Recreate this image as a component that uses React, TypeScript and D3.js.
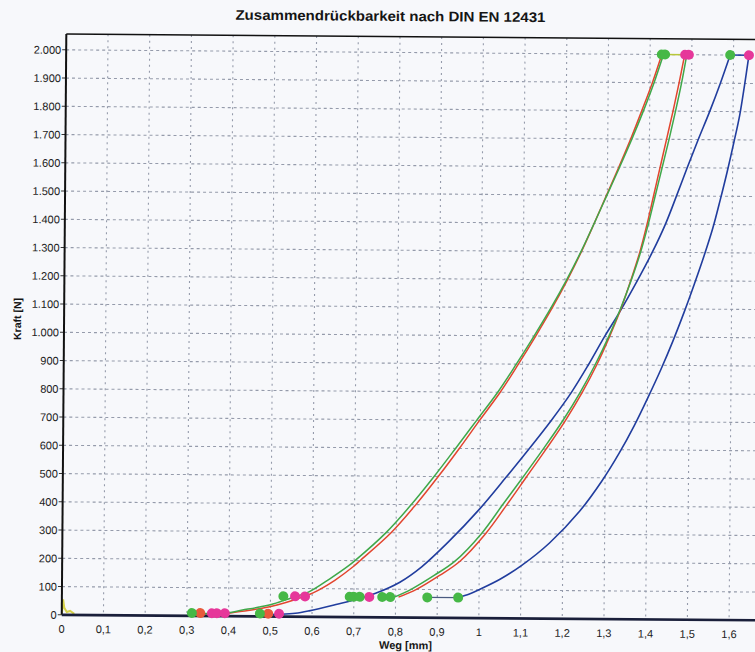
import React from "react";
import * as d3 from "d3";

// ---------- data (Weg [mm], Kraft [N]) ----------
const xTickValues = [0, 0.1, 0.2, 0.3, 0.4, 0.5, 0.6, 0.7, 0.8, 0.9, 1, 1.1, 1.2, 1.3, 1.4, 1.5, 1.6];
const yTickValues = [0, 100, 200, 300, 400, 500, 600, 700, 800, 900, 1000, 1100, 1200, 1300, 1400, 1500, 1600, 1700, 1800, 1900, 2000];

const curveAGreenWeg = [0.313, 0.353, 0.393, 0.433, 0.473, 0.508, 0.548, 0.592, 0.642, 0.687, 0.702, 0.776, 0.836, 0.89, 0.941, 0.991, 1.041, 1.085, 1.127, 1.167, 1.204, 1.238, 1.269, 1.299, 1.329, 1.358, 1.385, 1.41, 1.432];
const curveAGreenKraft = [8, 9, 11, 22, 33, 45, 65, 88, 135, 182, 200, 300, 400, 500, 600, 700, 800, 900, 1000, 1100, 1200, 1300, 1400, 1500, 1600, 1700, 1800, 1900, 2000];

const curveARedWeg = [0.333, 0.373, 0.403, 0.443, 0.483, 0.518, 0.558, 0.602, 0.654, 0.699, 0.714, 0.788, 0.847, 0.9, 0.95, 0.998, 1.047, 1.09, 1.131, 1.17, 1.206, 1.239, 1.269, 1.298, 1.327, 1.355, 1.381, 1.406, 1.428];
const curveARedKraft = [8, 9, 11, 20, 30, 42, 60, 85, 130, 180, 200, 300, 400, 500, 600, 700, 800, 900, 1000, 1100, 1200, 1300, 1400, 1500, 1600, 1700, 1800, 1900, 2000];

const curveBBlueWeg = [0.47, 0.52, 0.56, 0.593, 0.66, 0.712, 0.752, 0.81, 0.862, 0.925, 0.999, 1.063, 1.117, 1.169, 1.217, 1.258, 1.296, 1.332, 1.374, 1.409, 1.44, 1.466, 1.491, 1.517, 1.544, 1.569, 1.592];
const curveBBlueKraft = [6, 8, 12, 21, 45, 65, 85, 125, 180, 268, 385, 500, 600, 700, 800, 900, 1000, 1088, 1200, 1300, 1400, 1500, 1600, 1700, 1800, 1900, 2000];

const curveCGreenWeg = [0.797, 0.837, 0.892, 0.941, 1.005, 1.054, 1.103, 1.151, 1.197, 1.238, 1.274, 1.306, 1.334, 1.359, 1.381, 1.399, 1.415, 1.431, 1.447, 1.462, 1.476, 1.488];
const curveCRedWeg = [0.807, 0.85, 0.905, 0.953, 1.015, 1.064, 1.111, 1.158, 1.203, 1.243, 1.278, 1.308, 1.335, 1.358, 1.379, 1.396, 1.411, 1.426, 1.441, 1.456, 1.47, 1.483];
const curveCKraft = [72, 100, 150, 200, 300, 400, 500, 600, 700, 800, 900, 1000, 1100, 1200, 1300, 1400, 1500, 1600, 1700, 1800, 1900, 2000];

const curveDBlueWeg = [0.95, 0.977, 1.002, 1.05, 1.101, 1.168, 1.24, 1.292, 1.333, 1.369, 1.402, 1.432, 1.46, 1.486, 1.51, 1.533, 1.554, 1.571, 1.587, 1.602, 1.616, 1.627, 1.637];
const curveDBlueKraft = [72, 85, 102, 138, 187, 268, 382, 488, 587, 686, 788, 886, 986, 1087, 1187, 1288, 1389, 1488, 1587, 1688, 1788, 1894, 2000];

const originWeg = [0, 0.003, 0.006, 0.012, 0.02, 0.03];
const originKraft = [0, 55, 25, 10, 14, 4];

const connectorLowWeg = [0.876, 0.95];
const connectorLowKraft = [72, 72];
const connectorTopAWeg = [1.432, 1.488];
const connectorTopBWeg = [1.592, 1.637];
const connectorTopKraft = [2000, 2000];

const markerGreenWeg = [0.312, 0.475, 0.531, 0.69, 0.70, 0.714, 0.768, 0.787, 0.876, 0.95, 1.428, 1.436, 1.592];
const markerGreenKraft = [10, 10, 72, 72, 72, 72, 72, 72, 72, 72, 2000, 2000, 2000];
const markerPinkWeg = [0.36, 0.372, 0.391, 0.521, 0.559, 0.583, 0.737, 1.484, 1.493, 1.637];
const markerPinkKraft = [10, 10, 10, 10, 72, 72, 72, 2000, 2000, 2000];
const markerRedWeg = [0.332, 0.495];
const markerRedKraft = [10, 10];

// ---------- layout ----------
const W = 755;
const H = 652;
const X0 = 64;
const PX_PER_MM = 417.1;
const Y_BOTTOM = 617.5;
const Y_TOP = 36.65;

const x = d3.scaleLinear().domain([0, 1.7]).range([X0, X0 + 1.7 * PX_PER_MM]);
const y = d3.scaleLinear().domain([0, 2056]).range([Y_BOTTOM, Y_TOP]);

const de = d3.formatLocale({ decimal: ",", thousands: ".", grouping: [3], currency: ["", "€"] });
const fmtY = de.format(",");
const fmtX = de.format("~g");

const zip = (xs: number[], ys: number[]) => xs.map((v, i) => [v, ys[i]] as [number, number]);

const smooth = d3
  .line<[number, number]>()
  .x((d) => x(d[0]))
  .y((d) => y(d[1]))
  .curve(d3.curveCatmullRom.alpha(0.5));
const straight = d3
  .line<[number, number]>()
  .x((d) => x(d[0]))
  .y((d) => y(d[1]));

const GREEN = "#3fa84a";
const RED = "#e2452e";
const BLUE = "#213d9e";
const M_GREEN = "#46b846";
const M_PINK = "#e6379a";
const M_RED = "#e85a3c";
const GRID = "#959bab";
const FONT = "'Liberation Sans', Arial, Helvetica, sans-serif";

export default function App() {
  const xMaxPx = x.range()[1];
  return (
    <svg
      width={W}
      height={H}
      viewBox={`0 0 ${W} ${H}`}
      style={{ position: "absolute", left: 0, top: 0, background: "#f7f8fb" }}
      fontFamily={FONT}
    >
      <rect x={0} y={0} width={W} height={H} fill="#f7f8fb" />
      <g transform="rotate(0.45, 400, 330)">
        <text
          x={388}
          y={21}
          textAnchor="middle"
          fontSize={14}
          fontWeight="bold"
          fill="#151515"
          textLength={310}
          lengthAdjust="spacingAndGlyphs"
        >
          Zusammendrückbarkeit nach DIN EN 12431
        </text>

        {/* grid */}
        {yTickValues.filter((t) => t > 0).map((t) => (
          <line key={"gy" + t} x1={X0} x2={xMaxPx} y1={y(t)} y2={y(t)} stroke={GRID} strokeWidth={1.1} strokeDasharray="3,3" />
        ))}
        {xTickValues.filter((t) => t > 0).map((t) => (
          <line key={"gx" + t} x1={x(t)} x2={x(t)} y1={Y_TOP} y2={Y_BOTTOM} stroke={GRID} strokeWidth={1.1} strokeDasharray="2,4" />
        ))}

        {/* y ticks and labels */}
        {yTickValues.map((t) => (
          <g key={"ty" + t}>
            <line x1={X0 - 4} x2={X0} y1={y(t)} y2={y(t)} stroke="#333" strokeWidth={1} />
            <text x={X0 - 5} y={y(t) + 4} textAnchor="end" fontSize={11} fill="#222">
              {fmtY(t)}
            </text>
          </g>
        ))}
        {/* x labels */}
        {xTickValues.map((t) => (
          <text key={"tx" + t} x={x(t)} y={Y_BOTTOM + 18} textAnchor="middle" fontSize={11} fill="#222">
            {fmtX(t)}
          </text>
        ))}

        <text x={408} y={649} textAnchor="middle" fontSize={11} fontWeight="bold" fill="#151515">
          Weg [mm]
        </text>
        <text
          transform={`translate(21, 322) rotate(-90)`}
          textAnchor="middle"
          fontSize={10.5}
          fontWeight="bold"
          fill="#151515"
        >
          Kraft [N]
        </text>

        {/* curves */}
        <path d={straight(zip(originWeg, originKraft)) || ""} fill="none" stroke="#d6d24a" strokeWidth={2} />
        <path d={smooth(zip(curveBBlueWeg, curveBBlueKraft)) || ""} fill="none" stroke={BLUE} strokeWidth={1.6} />
        <path d={smooth(zip(curveDBlueWeg, curveDBlueKraft)) || ""} fill="none" stroke={BLUE} strokeWidth={1.6} />
        <path d={smooth(zip(curveARedWeg, curveARedKraft)) || ""} fill="none" stroke={RED} strokeWidth={1.5} />
        <path d={smooth(zip(curveAGreenWeg, curveAGreenKraft)) || ""} fill="none" stroke={GREEN} strokeWidth={1.5} />
        <path d={smooth(zip(curveCRedWeg, curveCKraft)) || ""} fill="none" stroke={RED} strokeWidth={1.5} />
        <path d={smooth(zip(curveCGreenWeg, curveCKraft)) || ""} fill="none" stroke={GREEN} strokeWidth={1.5} />
        <path d={straight(zip(connectorLowWeg, connectorLowKraft)) || ""} fill="none" stroke="#4a5a80" strokeWidth={1.2} />
        <path d={straight(zip(connectorTopAWeg, connectorTopKraft)) || ""} fill="none" stroke="#b8c83a" strokeWidth={1.6} />
        <path d={straight(zip(connectorTopBWeg, connectorTopKraft)) || ""} fill="none" stroke={BLUE} strokeWidth={1.6} />

        {/* frame */}
        <line x1={X0} x2={xMaxPx} y1={Y_TOP} y2={Y_TOP} stroke="#111" strokeWidth={1.4} />
        <line x1={X0} x2={X0} y1={Y_TOP} y2={Y_BOTTOM} stroke="#111" strokeWidth={2} />
        <line x1={X0} x2={xMaxPx} y1={Y_BOTTOM} y2={Y_BOTTOM} stroke="#1a1f3a" strokeWidth={2.6} />

        {/* markers */}
        {zip(markerRedWeg, markerRedKraft).map((d, i) => (
          <circle key={"mr" + i} cx={x(d[0])} cy={y(d[1])} r={5} fill={M_RED} />
        ))}
        {zip(markerPinkWeg, markerPinkKraft).map((d, i) => (
          <circle key={"mp" + i} cx={x(d[0])} cy={y(d[1])} r={5} fill={M_PINK} />
        ))}
        {zip(markerGreenWeg, markerGreenKraft).map((d, i) => (
          <circle key={"mg" + i} cx={x(d[0])} cy={y(d[1])} r={5} fill={M_GREEN} />
        ))}
      </g>
    </svg>
  );
}
